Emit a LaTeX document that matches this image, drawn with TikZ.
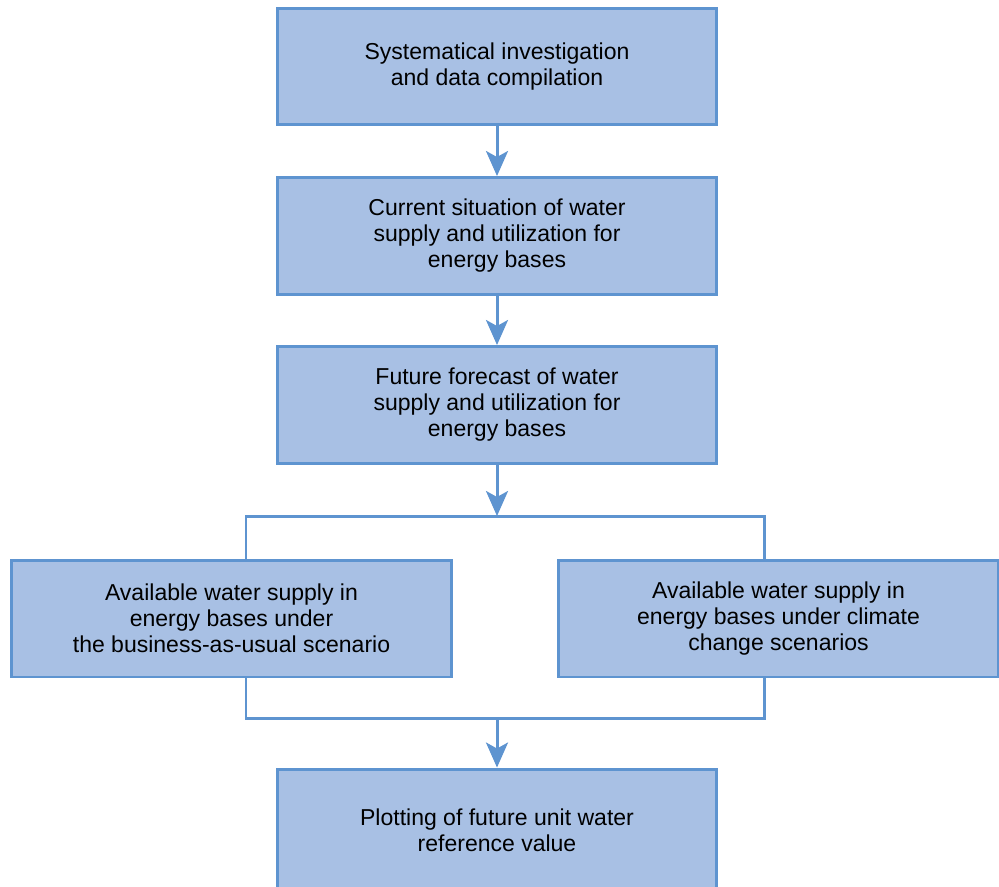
\documentclass[tikz,border=0pt]{standalone}
\usepackage{fontspec}
\setmainfont{Liberation Sans}
\usetikzlibrary{arrows.meta}
\definecolor{boxfill}{HTML}{A8C0E4}
\definecolor{boxline}{HTML}{5E94D0}
\begin{document}
\begin{tikzpicture}[x=0.02cm, y=-0.02cm, line join=miter, >={Stealth[length=5mm,width=4.4mm,inset=1.2mm]},
  font=\fontsize{13.1}{14.8}\selectfont,
  box/.style={draw=boxline, fill=boxfill, line width=1.7pt, minimum width=8.8cm, minimum height=2.34cm, align=center, inner sep=0pt},
  link/.style={draw=boxline, line width=1.7pt}]
 \useasboundingbox (0,0) rectangle (999,886);
 \clip (0,0) rectangle (999,886);
 \node[box] (survey) at (497,66.5) {Systematical investigation\\and data compilation};
 \node[box] (current) at (497,236) {Current situation of water\\supply and utilization for\\energy bases};
 \node[box] (future) at (497,405) {Future forecast of water\\supply and utilization for\\energy bases};
 \node[box] (bau) at (231.5,618.5) {Available water supply in\\energy bases under\\the business-as-usual scenario};
 \node[box] (climate) at (778.5,618.5) {Available water supply in\\energy bases under climate\\change scenarios};
 \node[box, minimum height=2.44cm] (plot) at (497,830) {Plotting of future unit water\\reference value};
 \coordinate (split) at (497,516);
 \coordinate (splitL) at (246,516);
 \coordinate (splitR) at (764,516);
 \coordinate (joinL) at (246,718);
 \coordinate (joinR) at (764,718);
 \coordinate (join) at (497,718);
 \draw[link,->] (survey) -- (current);
 \draw[link,->] (current) -- (future);
 \draw[link,->] (future) -- (split);
 \draw[link] (splitL |- bau.north) -- (splitL) -- (splitR) -- (splitR |- climate.north);
 \draw[link] (joinL |- bau.south) -- (joinL) -- (joinR) -- (joinR |- climate.south);
 \draw[link,->] (join) -- (plot);
\end{tikzpicture}
\end{document}
